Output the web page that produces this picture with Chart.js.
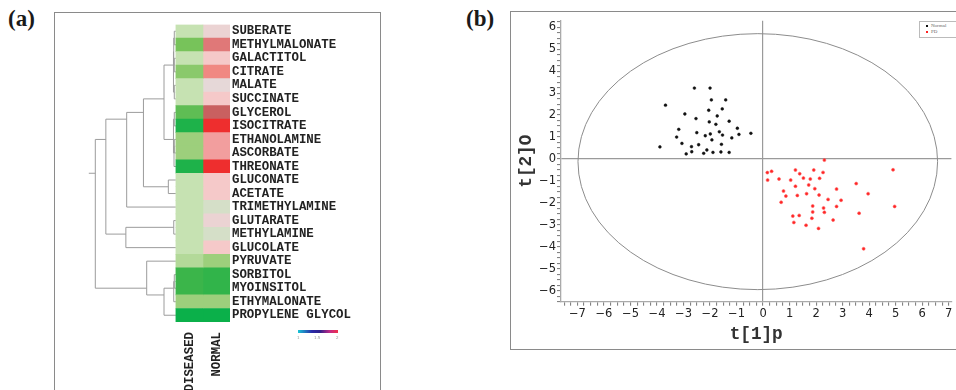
<!DOCTYPE html>
<html>
<head>
<meta charset="utf-8">
<script src="https://cdn.jsdelivr.net/npm/chart.js@4/dist/chart.umd.min.js"></script>
<style>
body{margin:0;background:#fff;width:956px;height:390px;overflow:hidden;position:relative}
.panel{position:absolute;border:1.5px solid #8a8a8a;box-sizing:border-box}
#pa{left:54px;top:12px;width:327px;height:400px}
#pb{left:510px;top:11px;width:470px;height:339px}
.tag{position:absolute;font:bold 23px "Liberation Serif",serif;color:#1a1a1a}
#ca{position:absolute;left:56px;top:14px}
#cb{position:absolute;left:512px;top:12px}
#cbar{position:absolute;left:298px;top:330px;width:40px;height:3px;background:linear-gradient(to right,#19c6d6,#2a2aa8 35%,#30208a 55%,#c42a86 80%,#f0304a)}
.cbl{position:absolute;top:335px;font:4px "DejaVu Sans",sans-serif;color:#999}
#leg{position:absolute;left:919px;top:21px;width:40px;height:15px;border:1px solid #bbb;background:#fff;font:5px "Liberation Serif",serif;color:#666}
#leg div{position:absolute;left:6px;white-space:nowrap}
#leg span{display:inline-block;width:2px;height:2px;margin-right:3px;vertical-align:middle}
</style>
</head>
<body>
<div class="panel" id="pa"></div>
<div class="panel" id="pb"></div>
<div class="tag" style="left:8px;top:6px">(a)</div>
<div class="tag" style="left:466px;top:6px">(b)</div>
<canvas id="ca" width="322" height="376"></canvas>
<canvas id="cb" width="444" height="337"></canvas>
<div id="cbar"></div>
<div class="cbl" style="left:297px">1</div>
<div class="cbl" style="left:314px">1.5</div>
<div class="cbl" style="left:336px">2</div>
<div id="leg">
  <div style="top:1px"><span style="background:#111"></span>Normal</div>
  <div style="top:7px"><span style="background:#f22"></span>PD</div>
</div>
<script>
// ---- panel (a): heatmap ----
var metabolites = ['SUBERATE','METHYLMALONATE','GALACTITOL','CITRATE','MALATE','SUCCINATE',
  'GLYCEROL','ISOCITRATE','ETHANOLAMINE','ASCORBATE','THREONATE','GLUCONATE','ACETATE',
  'TRIMETHYLAMINE','GLUTARATE','METHYLAMINE','GLUCOLATE','PYRUVATE','SORBITOL','MYOINSITOL',
  'ETHYMALONATE','PROPYLENE GLYCOL'];
var groups = ['DISEASED','NORMAL'];
// negative = green, positive = red
var diseasedValues = [-0.15,-0.5,-0.15,-0.4,-0.15,-0.15,-0.6,-0.9,-0.3,-0.3,-0.9,-0.15,-0.15,
  -0.15,-0.15,-0.15,-0.15,-0.22,-0.75,-0.75,-0.3,-1];
var normalValues = [0.07,0.7,0.15,0.55,0.03,0.15,0.8,1,0.4,0.4,1,0.15,0.15,
  -0.07,0.07,-0.07,0.15,-0.3,-0.8,-0.8,-0.3,-1];
// dendrogram merges: [a, b, height]; negative = leaf -(i+1), positive = earlier merge (1-based)
var dendroMerges = [
  [-1,-2,0.06],[-3,-4,0.06],[-5,-6,0.06],[1,2,0.08],[4,3,0.09],
  [-7,-8,0.06],[-9,-10,0.06],[7,-11,0.07],[6,8,0.09],
  [5,9,0.44],[-12,-13,0.28],[10,11,1.2],[12,-14,1.82],
  [-15,-16,0.08],[14,-17,1.85],[13,15,2.59],
  [-19,-20,0.06],[17,-21,0.08],[18,-22,0.44],[-18,19,1.08],
  [16,20,2.98]
];
var rootStub = 3.22;

// ---- panel (b): score plot ----
var normalX = [-2.59,-2.00,-3.68,-1.95,-1.41,-2.05,-1.54,-2.95,-1.73,-2.53,-2.03,-1.28,-1.78,
  -3.18,-0.97,-2.50,-2.18,-1.99,-1.65,-1.53,-0.91,-0.46,-3.26,-1.93,-1.18,-3.06,-2.43,-1.57,
  -3.89,-2.70,-2.12,-2.69,-2.90,-2.24,-1.89,-1.59,-1.28];
var normalY = [3.23,3.23,2.45,2.69,2.69,2.22,2.28,2.05,1.96,1.84,1.69,1.72,1.58,
  1.35,1.40,1.20,1.06,1.14,1.24,1.09,1.12,1.17,1.00,0.87,0.96,0.71,0.65,0.67,
  0.55,0.56,0.41,0.33,0.23,0.26,0.30,0.32,0.30];
var pdX = [2.31,0.16,0.32,1.22,1.91,1.38,2.26,4.90,0.17,0.60,1.04,1.52,1.78,2.13,3.51,1.72,
  1.22,1.95,2.77,0.77,1.64,3.96,0.86,1.29,2.11,2.45,2.94,0.68,4.96,1.87,2.28,2.77,1.87,2.31,
  3.62,1.12,1.36,1.84,2.64,1.16,1.62,2.09,3.79];
var pdY = [-0.05,-0.62,-0.56,-0.50,-0.50,-0.67,-0.61,-0.49,-0.96,-0.91,-0.96,-0.87,-0.91,-0.88,
  -1.12,-1.18,-1.24,-1.35,-1.37,-1.46,-1.58,-1.58,-1.69,-1.66,-1.64,-1.84,-1.88,-1.97,-2.16,
  -2.14,-2.23,-2.16,-2.41,-2.43,-2.47,-2.60,-2.57,-2.70,-2.78,-2.89,-3.02,-3.16,-4.09];
var ellipseCenter = [-0.2, -0.12];
var ellipseRadii = [6.78, 5.83];

function pts(xs, ys) { return xs.map(function (x, i) { return {x: x, y: ys[i]}; }); }

var stops = [
  [-1,[11,176,74]],[-0.75,[59,181,74]],[-0.5,[119,195,90]],[-0.3,[157,207,124]],
  [-0.15,[198,226,178]],[0,[226,220,220]],[0.15,[245,201,201]],[0.4,[242,158,158]],
  [0.55,[240,136,130]],[0.7,[224,120,120]],[0.8,[201,96,96]],[1,[238,46,46]]
];
function valueColor(v) {
  for (var i = 1; i < stops.length; i++) {
    if (v <= stops[i][0]) {
      var a = stops[i-1], b = stops[i], t = (v - a[0]) / (b[0] - a[0]);
      var c = a[1].map(function (ch, k) { return Math.round(ch + (b[1][k] - ch) * t); });
      return 'rgb(' + c.join(',') + ')';
    }
  }
  return 'rgb(' + stops[stops.length-1][1].join(',') + ')';
}

// node sits at the mean position of the leaves below it
var dendroPlugin = {
  id: 'dendro',
  beforeDatasetsDraw: function (chart) {
    var xs = chart.scales.x, ys = chart.scales.y, ctx = chart.ctx;
    var nodes = [];
    function pos(r) {
      if (r < 0) {
        var y = ys.getPixelForValue(-r - 1);
        return {x: xs.getPixelForValue(0), y: y, sum: y, n: 1};
      }
      return nodes[r - 1];
    }
    ctx.save();
    ctx.strokeStyle = '#9c9c9c';
    ctx.lineWidth = 1;
    ctx.beginPath();
    dendroMerges.forEach(function (m) {
      var a = pos(m[0]), b = pos(m[1]), x = xs.getPixelForValue(-m[2]);
      ctx.moveTo(a.x, a.y); ctx.lineTo(x, a.y); ctx.lineTo(x, b.y); ctx.lineTo(b.x, b.y);
      var sum = a.sum + b.sum, n = a.n + b.n;
      nodes.push({x: x, y: sum / n, sum: sum, n: n});
    });
    var root = nodes[nodes.length - 1];
    ctx.moveTo(root.x, root.y); ctx.lineTo(xs.getPixelForValue(-rootStub), root.y);
    ctx.stroke();
    ctx.restore();
  }
};

var monoFont = {family: '"Liberation Mono", "Courier New", monospace', size: 12.4, weight: 'bold'};

new Chart(document.getElementById('ca'), {
  type: 'bar',
  data: {
    labels: metabolites,
    datasets: [
      {label: groups[0], data: diseasedValues.map(function () { return 1; }),
       backgroundColor: diseasedValues.map(valueColor), borderWidth: 0},
      {label: groups[1], data: normalValues.map(function () { return 1; }),
       backgroundColor: normalValues.map(valueColor), borderWidth: 0}
    ]
  },
  options: {
    indexAxis: 'y',
    responsive: false,
    animation: false,
    barPercentage: 1,
    categoryPercentage: 1,
    layout: {padding: {left: 32, top: 10.5, right: 0, bottom: 0}},
    plugins: {legend: {display: false}, tooltip: {enabled: false}},
    scales: {
      x: {
        type: 'linear', stacked: true, min: -3.25, max: 2,
        grid: {display: false}, border: {display: false},
        afterBuildTicks: function (s) { s.ticks = groups.map(function (g, i) { return {value: i + 0.5}; }); },
        afterFit: function (s) { s.height = 68; },
        ticks: {
          callback: function (v, i) { return groups[i]; },
          font: monoFont, color: '#222', padding: 2,
          minRotation: 90, maxRotation: 90, autoSkip: false
        }
      },
      y: {
        position: 'right', stacked: true,
        grid: {display: false, drawTicks: false}, border: {display: false},
        afterFit: function (s) { s.width = 148; },
        ticks: {font: monoFont, color: '#222', padding: 2, autoSkip: false}
      }
    }
  },
  plugins: [dendroPlugin]
});

var ellipsePlugin = {
  id: 'ellipse',
  beforeDatasetsDraw: function (chart) {
    var xs = chart.scales.x, ys = chart.scales.y, ctx = chart.ctx;
    var cx = xs.getPixelForValue(ellipseCenter[0]), cy = ys.getPixelForValue(ellipseCenter[1]);
    var rx = Math.abs(xs.getPixelForValue(ellipseCenter[0] + ellipseRadii[0]) - cx);
    var ry = Math.abs(ys.getPixelForValue(ellipseCenter[1] + ellipseRadii[1]) - cy);
    ctx.save();
    ctx.strokeStyle = '#8c8c8c';
    ctx.lineWidth = 1;
    ctx.beginPath();
    ctx.ellipse(cx, cy, rx, ry, 0, 0, Math.PI * 2);
    ctx.stroke();
    ctx.restore();
  }
};

function intLabel(v) {
  if (Math.abs(v - Math.round(v)) > 1e-6) return '';
  v = Math.round(v);
  return v < 0 ? '\u2212' + Math.abs(v) : String(v);
}
function zeroLine(ctx) { return ctx.tick && Math.abs(ctx.tick.value) < 1e-9 ? '#9a9a9a' : 'rgba(0,0,0,0)'; }
var tickFont = {family: '"DejaVu Sans", Verdana, sans-serif', size: 11.5};
var titleFont = {family: '"Liberation Mono", "Courier New", monospace', size: 17.7, weight: 'bold'};

new Chart(document.getElementById('cb'), {
  type: 'scatter',
  data: {
    datasets: [
      {label: 'Normal', data: pts(normalX, normalY), backgroundColor: '#111', borderColor: '#111',
       pointRadius: 1.4, borderWidth: 0.5},
      {label: 'PD', data: pts(pdX, pdY), backgroundColor: '#ff2424', borderColor: '#ff5a5a',
       pointRadius: 1.5, borderWidth: 0.6}
    ]
  },
  options: {
    responsive: false,
    animation: false,
    layout: {padding: {left: 0, top: 8.7, right: 0, bottom: 0}},
    plugins: {legend: {display: false}, tooltip: {enabled: false}},
    scales: {
      x: {
        min: -7.62, max: 7.1,
        afterFit: function (s) { s.height = 47.3; },
        grid: {color: zeroLine, lineWidth: 1.2, tickColor: '#777', tickWidth: 1, tickLength: 4},
        border: {color: '#aaa', width: 1.3},
        ticks: {stepSize: 0.25, includeBounds: false, maxTicksLimit: 1000, autoSkip: false,
                minRotation: 0, maxRotation: 0, callback: intLabel, font: tickFont, color: '#222', padding: 1},
        title: {display: true, text: 't[1]p', font: titleFont, color: '#333', padding: {top: 2, bottom: 4}}
      },
      y: {
        min: -6.5, max: 6.3,
        afterFit: function (s) { s.width = 49; },
        grid: {color: zeroLine, lineWidth: 1.2, tickColor: '#777', tickWidth: 1, tickLength: 4},
        border: {color: '#aaa', width: 1.3},
        ticks: {stepSize: 0.25, includeBounds: false, maxTicksLimit: 1000, autoSkip: false,
                callback: intLabel, font: tickFont, color: '#222', padding: 1},
        title: {display: true, text: 't[2]O', font: titleFont, color: '#333', padding: {top: 4, bottom: 2}}
      }
    }
  },
  plugins: [ellipsePlugin]
});
</script>
</body>
</html>
